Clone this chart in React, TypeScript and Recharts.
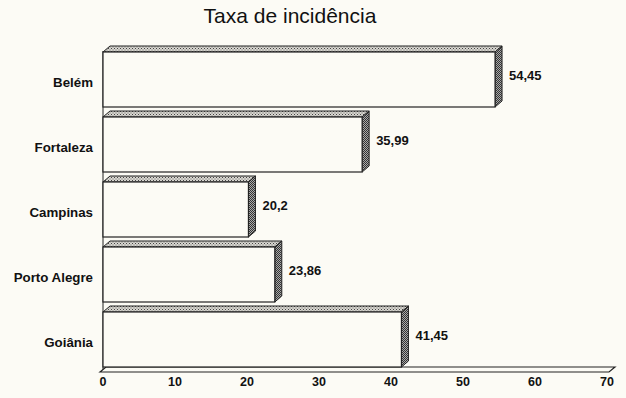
import { BarChart, Bar, XAxis, YAxis, LabelList, ReferenceArea } from "recharts";

const cities = ["Belém", "Fortaleza", "Campinas", "Porto Alegre", "Goiânia"];
const rates = [54.45, 35.99, 20.2, 23.86, 41.45];
const xTicks = [0, 10, 20, 30, 40, 50, 60, 70];

const data = cities.map((city, i) => ({ city, rate: rates[i] }));

const DX = 7;
const DY = 6;
const PAPER = "#fcfbf5";

const fmt = (v: any) => String(v).replace(".", ",");

function Box3D(props: any) {
  const { x, y, width, height } = props;
  const top = `${x},${y} ${x + DX},${y - DY} ${x + width + DX},${y - DY} ${x + width},${y}`;
  const side = `${x + width},${y} ${x + width + DX},${y - DY} ${x + width + DX},${y + height - DY} ${x + width},${y + height}`;
  return (
    <g>
      <polygon points={top} fill="url(#hatchLight)" stroke="#222" strokeWidth={1} />
      <polygon points={side} fill="url(#hatchDark)" stroke="#222" strokeWidth={1} />
      <rect x={x} y={y} width={width} height={height} fill={PAPER} stroke="#222" strokeWidth={1.2} />
    </g>
  );
}

function Floor(props: any) {
  const { x, y, width, height } = props;
  const b = y + height;
  const r = x + width;
  const pts = `${x - 3},${b} ${x + 3},${b - 5} ${r + 8},${b - 5} ${r + 2},${b}`;
  return (
    <g>
      <defs>
        <pattern id="hatchLight" width="3" height="3" patternUnits="userSpaceOnUse">
          <rect width="3" height="3" fill="#d8d6d0" />
          <rect width="1" height="1" fill="#444" />
          <rect x="1.5" y="1.5" width="1" height="1" fill="#666" />
        </pattern>
        <pattern id="hatchDark" width="2" height="2" patternUnits="userSpaceOnUse">
          <rect width="2" height="2" fill="#aaa" />
          <rect width="1" height="1" fill="#333" />
          <rect x="1" y="1" width="1" height="1" fill="#333" />
        </pattern>
      </defs>
      <line x1={x} y1={y + 4} x2={x} y2={b} stroke="#222" strokeWidth={1} />
      <polygon points={pts} fill={PAPER} stroke="#222" strokeWidth={1.2} />
    </g>
  );
}

export default function App() {
  return (
    <div
      style={{
        position: "fixed",
        left: 0,
        top: 0,
        width: 626,
        height: 398,
        background: PAPER,
        fontFamily: "'Liberation Sans', Arial, sans-serif",
      }}
    >
      <div
        style={{
          position: "absolute",
          left: 0,
          top: 4,
          width: 580,
          textAlign: "center",
          fontSize: 21,
          color: "#111",
        }}
      >
        Taxa de incidência
      </div>
      <BarChart
        width={626}
        height={398}
        data={data}
        layout="vertical"
        margin={{ top: 47, right: 19, left: 0, bottom: 6 }}
        style={{ position: "absolute", left: 0, top: 0 }}
      >
        <XAxis
          type="number"
          domain={[0, 70]}
          ticks={xTicks}
          interval={0}
          axisLine={false}
          tickLine={false}
          tickSize={0}
          tickMargin={5}
          height={20}
          tick={{ fill: "#111", fontSize: 12.5, fontWeight: 700 }}
        />
        <YAxis
          type="category"
          dataKey="city"
          width={103}
          axisLine={false}
          tickLine={false}
          tickSize={0}
          tickMargin={10}
          tick={{ fill: "#111", fontSize: 13.3, fontWeight: 700, dy: 3 }}
        />
        <ReferenceArea x1={0} x2={70} ifOverflow="visible" shape={<Floor />} />
        <Bar dataKey="rate" barSize={55} shape={<Box3D />} isAnimationActive={false}>
          <LabelList
            dataKey="rate"
            position="right"
            offset={14}
            formatter={fmt}
            style={{ fill: "#111", fontSize: 13, fontWeight: 700, transform: "translateY(-4px)" }}
          />
        </Bar>
      </BarChart>
    </div>
  );
}
